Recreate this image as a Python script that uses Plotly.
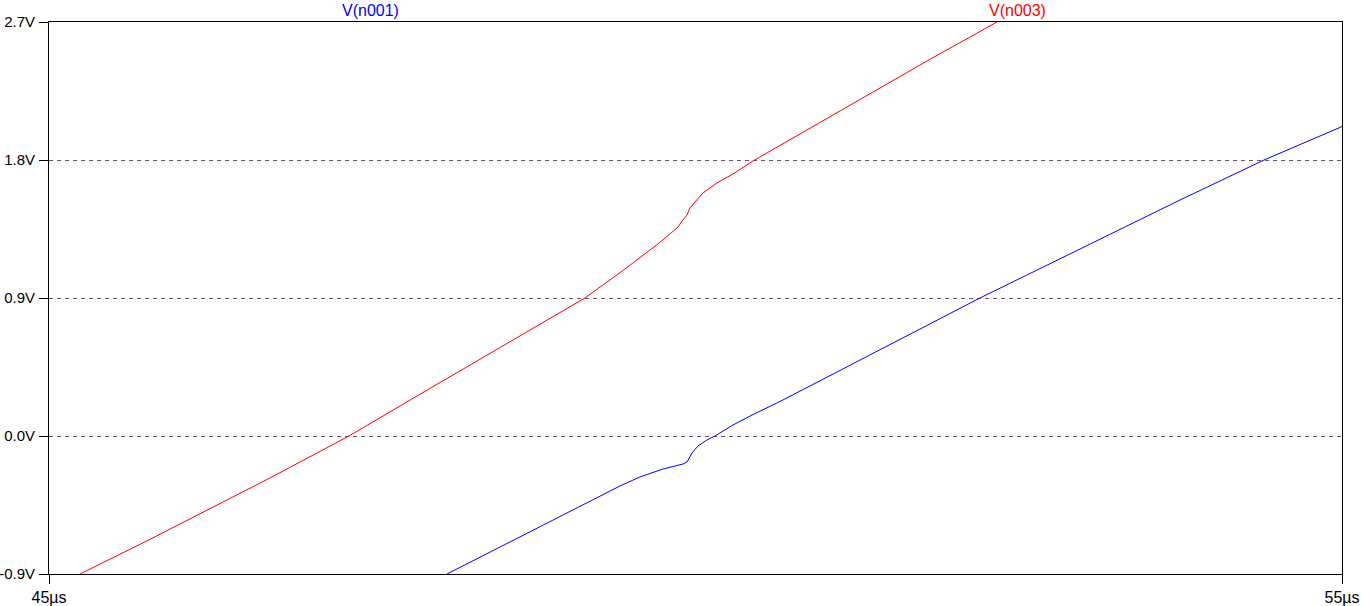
import plotly.graph_objects as go

# time in microseconds, voltages in volts
t_n003 = [45.240, 45.781, 46.704, 47.320, 47.869, 48.715, 49.145, 49.455,
          49.739, 49.865, 49.896, 49.934, 49.957, 49.996, 50.058, 50.166, 50.290,
          50.445, 50.592, 51.814, 52.332]
v_n003 = [-0.900, -0.674, -0.276, 0.000, 0.272, 0.687, 0.900, 1.089,
          1.272, 1.363, 1.402, 1.441, 1.487, 1.526, 1.585, 1.650, 1.709,
          1.794, 1.865, 2.457, 2.700]

t_n001 = [48.078, 48.797, 49.416, 49.571, 49.749, 49.903, 49.934, 49.973, 50.019,
          50.089, 50.151, 50.290, 50.445, 50.653, 52.200, 53.747, 54.397, 55.000]
v_n001 = [-0.900, -0.593, -0.326, -0.267, -0.215, -0.183, -0.170, -0.111, -0.065,
          -0.026, 0.000, 0.072, 0.140, 0.225, 0.900, 1.539, 1.800, 2.018]

y_ticks = [-0.9, 0.0, 0.9, 1.8, 2.7]
y_tick_labels = ["-0.9V", "0.0V", "0.9V", "1.8V", "2.7V"]
x_ticks = [45, 55]
x_tick_labels = ["45µs", "55µs"]

FONT = "Liberation Sans"

fig = go.Figure()
fig.add_trace(go.Scatter(x=t_n003, y=v_n003, mode="lines", name="V(n003)",
                         line=dict(color="#ff0000", width=1)))
fig.add_trace(go.Scatter(x=t_n001, y=v_n001, mode="lines", name="V(n001)",
                         line=dict(color="#0000ff", width=1)))

fig.update_layout(
    width=1362, height=606,
    margin=dict(l=49, r=20, t=22, b=32, autoexpand=False),
    paper_bgcolor="white", plot_bgcolor="white",
    showlegend=False,
    font=dict(family=FONT, size=16, color="black"),
    xaxis=dict(range=[45, 55], tickvals=x_ticks, ticktext=x_tick_labels,
               automargin=False,
               showgrid=False, zeroline=False, showline=True, linecolor="black",
               linewidth=1, mirror=True, ticks="outside", ticklen=9,
               tickcolor="black", tickfont=dict(family=FONT, size=16, color="black")),
    yaxis=dict(range=[-0.9, 2.7], tickvals=y_ticks, ticktext=y_tick_labels,
               automargin=False,
               showgrid=True, gridcolor="#665566", griddash="4px,4px", gridwidth=1,
               zeroline=False, showline=True, linecolor="black", linewidth=1,
               mirror=True, ticks="outside", ticklen=9, tickcolor="black",
               ticklabelstandoff=1,
               tickfont=dict(family=FONT, size=15, color="black")),
    annotations=[
        dict(text="V(n001)", x=0.249, y=1.0, xref="paper", yref="paper",
             xanchor="center", yanchor="bottom", yshift=1, showarrow=False,
             font=dict(family=FONT, size=16, color="#0000ff")),
        dict(text="V(n003)", x=0.749, y=1.0, xref="paper", yref="paper",
             xanchor="center", yanchor="bottom", yshift=1, showarrow=False,
             font=dict(family=FONT, size=16, color="#ff0000")),
    ],
)

fig.write_html("out.html", config={"displayModeBar": False},
               post_script="document.body.style.margin='0';document.body.style.overflow='hidden';")
